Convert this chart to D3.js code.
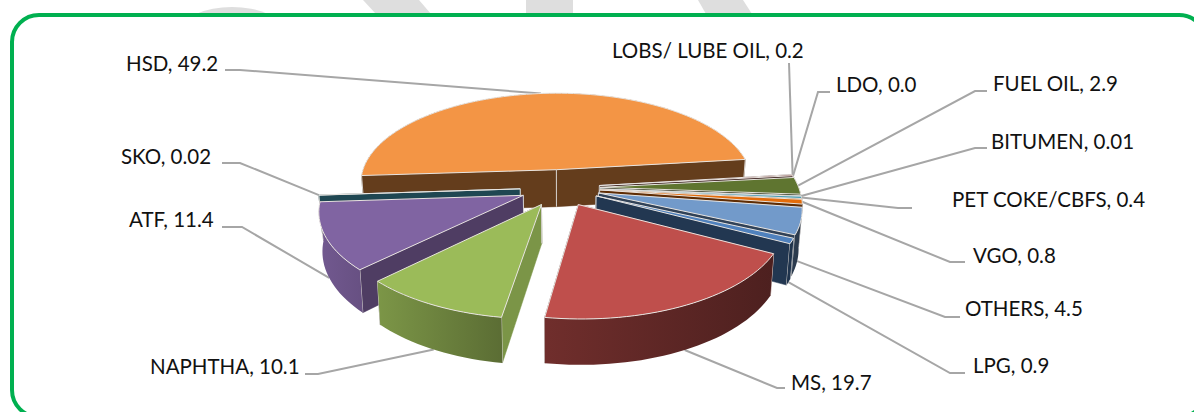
<!DOCTYPE html>
<html>
<head>
<meta charset="utf-8">
<script src="https://cdn.jsdelivr.net/npm/d3@7"></script>
<style>
  html, body { margin: 0; padding: 0; background: #fff; }
  svg { display: block; }
  text { font-family: Lato, "Noto Sans", sans-serif; font-size: 20.5px; fill: #111; }
</style>
</head>
<body>
<svg id="chart" width="1194" height="412"></svg>
<script>
// values, clockwise from the HSD slice
const products = ["HSD", "LOBS/ LUBE OIL", "LDO", "FUEL OIL", "BITUMEN", "PET COKE/CBFS", "VGO", "OTHERS", "LPG", "MS", "NAPHTHA", "ATF", "SKO"];
const shares = [49.2, 0.2, 0.0, 2.9, 0.01, 0.4, 0.8, 4.5, 0.9, 19.7, 10.1, 11.4, 0.02];
const shareLabels = ["49.2", "0.2", "0.0", "2.9", "0.01", "0.4", "0.8", "4.5", "0.9", "19.7", "10.1", "11.4", "0.02"];
const topColors = ["#f39545", "#772c2a", "#2c4d75", "#5f7530", "#4d3b62", "#4a9db3", "#e46c0a", "#729aca", "#4f81bd", "#bf4f4c", "#9bbb59", "#8064a2", "#4bacc6"];

// label text x, baseline y, then the elbow of the leader line
const labelPlaces = [
  [126, 71, 225, 70, 240, 70], [612, 58, 789, 63, 789, 63], [836, 92, 830, 92, 818, 92],
  [993, 91, 987, 91, 975, 91], [991, 149, 987, 148, 975, 148], [952, 207, 912, 208, 898, 208],
  [973, 263, 965, 262, 950, 262], [965, 316, 960, 317, 945, 317], [973, 373, 965, 373, 950, 373],
  [791, 390, 785, 388, 777, 388], [150, 374, 305, 374, 318, 374], [129, 227, 222, 227, 242, 227],
  [121, 164, 222, 163, 240, 163]
];

const toRad = Math.PI / 180;
const firstSliceAngle = 266.2;
const cx = 560, cy = 187.6, rx = 199, ry = 92.4;
const perspective = 0.145, depth = 38, explode = 0.2;

const xScale = d3.scaleLinear().domain([0, 1]).range([cx, cx + rx]);
const yScale = d3.scaleLinear().domain([0, 1]).range([cy, cy + ry]);

// ground position (unit pie radius) + height below the top -> screen
function project(X, Y, z) {
  const w = 1 / (1 - perspective * Y);
  const shrink = 1 - 0.015 * (z / depth);
  return [xScale(X * w * shrink), yScale(Y * w) + z * w];
}

const svg = d3.select("#chart");
const defs = svg.append("defs");

// watermark bits showing above the frame
const watermark = svg.append("g").attr("fill", "#dedede");
watermark.append("ellipse").attr("cx", 232).attr("cy", 30).attr("rx", 50).attr("ry", 23);
[[[363, 0], [419, 0], [431, 14], [376, 14]], [[526, 0], [573, 0], [573, 14], [526, 14]], [[698, 0], [743, 0], [752, 14], [706, 14]]]
  .forEach(p => watermark.append("polygon").attr("points", p.join(" ")));

// green frame, runs off the right and bottom of the picture
svg.append("rect")
  .attr("x", 12).attr("y", 15).attr("width", 1194).attr("height", 402).attr("rx", 27)
  .attr("fill", "#fff").attr("stroke", "#00b050").attr("stroke-width", 4);

const pie = d3.pie().sort(null).value(d => d)
  .startAngle(firstSliceAngle * toRad).endAngle((firstSliceAngle + 360) * toRad);

const slices = pie(shares).map((d, i) => {
  const mid = (d.startAngle + d.endAngle) / 2;
  return { i, start: d.startAngle, end: d.endAngle, mid,
    ax: explode * Math.sin(mid), ay: -explode * Math.cos(mid) };
});

const lineGen = d3.line();
const deg360 = a => ((a / toRad) % 360 + 360) % 360;

// brightness of the walls, depends on which way they face
const radialShade = d3.scaleLinear().domain([98, 134, 172, 207]).range([0.8, 0.62, 0.41, 0.43]).clamp(true);
const arcShade = d3.scaleLinear().domain([100, 188, 224, 270]).range([0.36, 0.58, 0.8, 0.9]).clamp(true);
function shaded(color, k) {
  const c = d3.rgb(color);
  return d3.rgb(c.r * k, c.g * k, c.b * k).formatHex();
}

// leader lines go under the pie
const leaders = svg.append("g").attr("fill", "none").attr("stroke", "#a6a6a6").attr("stroke-width", 2);
slices.forEach(s => {
  const front = -Math.cos(s.mid) > 0.15;
  const tip = project(s.ax + Math.sin(s.mid), s.ay - Math.cos(s.mid), front ? depth : 0);
  const p = labelPlaces[s.i];
  leaders.append("path").attr("d", lineGen([[p[2], p[3]], [p[4], p[5]], tip]));
});

const slicePoint = (s, t, z) => project(s.ax + Math.sin(t), s.ay - Math.cos(t), z);
const pieGroup = svg.append("g");

function drawSlice(s) {
  const color = topColors[s.i];
  const steps = Math.max(2, Math.ceil((s.end - s.start) / (2 * toRad)));
  const angles = d3.range(steps + 1).map(k => s.start + (s.end - s.start) * k / steps);
  const g = pieGroup.append("g");
  const apexTop = project(s.ax, s.ay, 0), apexBottom = project(s.ax, s.ay, depth);

  const meanY = ts => d3.mean(ts, t => s.ay - Math.cos(t));
  const faces = [];

  // two radial walls
  [[s.start, deg360(s.start) - 90], [s.end, deg360(s.end) + 90]].forEach(([t, normal]) => {
    faces.push({ y: meanY([t]) / 2 + s.ay / 2, draw() {
      const fill = shaded(color, radialShade(((normal % 360) + 360) % 360));
      const rimTop = slicePoint(s, t, 0), rimBottom = slicePoint(s, t, depth);
      g.append("path").attr("d", lineGen([apexTop, rimTop, rimBottom, apexBottom]) + "Z")
        .attr("fill", fill).attr("stroke", fill).attr("stroke-width", 0.5);
      g.append("path").attr("d", lineGen([apexTop, apexBottom]))
        .attr("stroke", "#d4d0cc").attr("stroke-width", 1);
      g.append("path").attr("d", lineGen([rimTop, rimBottom]))
        .attr("stroke", "#d4d0cc").attr("stroke-width", 1);
    }});
  });

  // curved outer wall
  faces.push({ y: meanY(angles), draw() {
    const id = "arc-wall-" + s.i;
    const grad = defs.append("linearGradient").attr("id", id);
    grad.append("stop").attr("offset", 0).attr("stop-color", shaded(color, arcShade(deg360(s.end))));
    grad.append("stop").attr("offset", 1).attr("stop-color", shaded(color, arcShade(deg360(s.start))));
    const tops = angles.map(t => slicePoint(s, t, 0));
    const bottoms = angles.map(t => slicePoint(s, t, depth)).reverse();
    g.append("path").attr("d", lineGen(tops.concat(bottoms)) + "Z").attr("fill", `url(#${id})`);
  }});

  faces.sort((a, b) => a.y - b.y).forEach(f => f.draw());

  // top face
  const rim = angles.map(t => slicePoint(s, t, 0));
  g.append("path").attr("d", lineGen([apexTop].concat(rim)) + "Z")
    .attr("fill", color).attr("stroke", "#e8e4e0").attr("stroke-width", 1).attr("stroke-linejoin", "round");
}

// back to front
slices.filter(s => s.end - s.start > 0)
  .sort((a, b) => a.ay - b.ay)
  .forEach(drawSlice);

// labels
svg.append("g").selectAll("text").data(slices).join("text")
  .attr("x", s => labelPlaces[s.i][0])
  .attr("y", s => labelPlaces[s.i][1])
  .text(s => `${products[s.i]}, ${shareLabels[s.i]}`);
</script>
</body>
</html>
